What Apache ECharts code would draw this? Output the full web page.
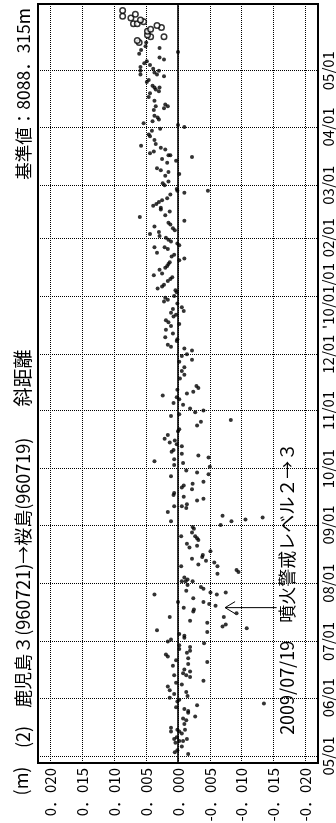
<!DOCTYPE html>
<html><head><meta charset="utf-8">
<script src="https://cdn.jsdelivr.net/npm/echarts@6/dist/echarts.min.js"></script>
<style>html,body{margin:0;padding:0;background:#fff}#c{width:336px;height:823px}</style>
</head><body><div id="c"></div>
<script>
const titleUnit = '(m)';
const titleMain = '(2)　鹿児島３(960721)→桜島(960719)';
const titleKind = '斜距離';
const titleBase = '基準値：8088．315m';
const eventNote = '2009/07/19　噴火警戒レベル２→３';
const eventDate = '2009-07-19';
const eventArrowFrom = -0.0155;
const eventArrowTo = -0.0074;

const valueTicks = [0.020, 0.015, 0.010, 0.005, 0, -0.005, -0.010, -0.015, -0.020];
const valueTickLabels = ['0．020','0．015','0．010','0．005','0．000','-0．005','-0．010','-0．015','-0．020'];
const monthTicks = ['2009-05-01','2009-06-01','2009-07-01','2009-08-01','2009-09-01','2009-10-01','2009-11-01','2009-12-01','2010-01-01','2010-02-01','2010-03-01','2010-04-01','2010-05-01'];
const monthTickLabels = ['05/01','06/01','07/01','08/01','09/01','10/01','11/01','12/01',"'10/01/01",'02/01','03/01','04/01','05/01'];

const dots = [
['2009-05-02',-0.0016],['2009-05-03',0.0005],['2009-05-04',0.0001],['2009-05-06',-0.0006],['2009-05-08',0.0004],['2009-05-09',-0.0002],['2009-05-09',-0.0008],['2009-05-10',0.0006],['2009-05-10',-0.0014],['2009-05-11',0.0002],['2009-05-13',-0.0006],['2009-05-14',0.0011],['2009-05-14',-0.0002],['2009-05-15',0.0001],['2009-05-15',-0.0011],['2009-05-16',0.0011],['2009-05-18',-0.0010],['2009-05-20',-0.0013],['2009-05-21',-0.0008],['2009-05-22',-0.0027],['2009-05-24',-0.0016],['2009-05-25',-0.0016],['2009-05-26',-0.0010],['2009-05-27',0.0003],['2009-05-28',-0.0030],['2009-05-29',-0.0135],['2009-05-30',0.0001],['2009-05-31',-0.0002],
['2009-06-01',0.0013],['2009-06-02',-0.0015],['2009-06-03',0.0006],['2009-06-04',-0.0013],['2009-06-05',0.0013],['2009-06-07',0.0016],['2009-06-08',-0.0006],['2009-06-09',0.0003],['2009-06-10',-0.0040],['2009-06-12',-0.0019],['2009-06-13',0.0006],['2009-06-13',-0.0013],['2009-06-14',-0.0008],['2009-06-15',-0.0019],['2009-06-16',-0.0010],['2009-06-18',0.0008],['2009-06-19',-0.0016],['2009-06-20',-0.0046],['2009-06-21',0.0003],['2009-06-22',-0.0016],['2009-06-23',0.0016],['2009-06-24',0.0019],['2009-06-25',-0.0014],['2009-06-26',-0.0019],['2009-06-27',-0.0002],['2009-06-28',-0.0019],['2009-06-29',-0.0002],['2009-06-30',-0.0041],
['2009-07-01',0.0016],['2009-07-02',0.0011],['2009-07-03',-0.0010],['2009-07-04',-0.0010],['2009-07-05',-0.0002],['2009-07-06',-0.0046],['2009-07-07',0.0033],['2009-07-08',-0.0108],['2009-07-09',-0.0070],['2009-07-10',-0.0075],['2009-07-11',-0.0046],['2009-07-12',-0.0019],['2009-07-14',0.0013],['2009-07-14',-0.0072],['2009-07-16',-0.0092],['2009-07-17',-0.0024],['2009-07-18',-0.0025],['2009-07-19',-0.0009],['2009-07-20',-0.0059],['2009-07-21',-0.0049],['2009-07-22',0.0000],['2009-07-22',-0.0040],['2009-07-24',-0.0024],['2009-07-26',0.0037],['2009-07-26',-0.0061],['2009-07-27',-0.0051],['2009-07-27',-0.0075],['2009-07-28',-0.0013],['2009-07-29',-0.0040],['2009-07-30',-0.0036],['2009-07-31',-0.0015],
['2009-08-02',-0.0006],['2009-08-02',-0.0012],['2009-08-02',-0.0023],['2009-08-03',-0.0015],['2009-08-04',-0.0010],['2009-08-06',-0.0062],['2009-08-07',-0.0095],['2009-08-08',-0.0092],['2009-08-10',-0.0005],['2009-08-10',-0.0062],['2009-08-11',-0.0032],['2009-08-12',-0.0057],['2009-08-13',-0.0044],['2009-08-14',-0.0022],['2009-08-15',-0.0038],['2009-08-16',-0.0039],['2009-08-18',-0.0051],['2009-08-20',-0.0018],['2009-08-21',-0.0030],['2009-08-22',-0.0014],['2009-08-24',-0.0032],['2009-08-25',-0.0030],['2009-08-26',-0.0027],['2009-08-26',-0.0005],['2009-08-28',-0.0022],['2009-08-30',-0.0025],['2009-08-31',-0.0023],
['2009-09-01',-0.0067],['2009-09-03',0.0011],['2009-09-03',-0.0084],['2009-09-04',-0.0106],['2009-09-05',-0.0133],['2009-09-06',-0.0070],['2009-09-08',0.0016],['2009-09-10',-0.0013],['2009-09-11',-0.0006],['2009-09-11',0.0006],['2009-09-12',-0.0014],['2009-09-14',-0.0030],['2009-09-15',-0.0040],['2009-09-16',-0.0009],['2009-09-17',0.0007],['2009-09-18',0.0006],['2009-09-20',-0.0022],['2009-09-21',-0.0006],['2009-09-22',-0.0009],['2009-09-23',-0.0023],['2009-09-24',-0.0040],['2009-09-27',0.0011],['2009-09-28',-0.0048],['2009-09-29',-0.0030],['2009-09-30',-0.0013],
['2009-10-02',-0.0050],['2009-10-03',0.0006],['2009-10-04',-0.0008],['2009-10-05',0.0037],['2009-10-06',0.0006],['2009-10-07',-0.0048],['2009-10-08',-0.0032],['2009-10-09',-0.0006],['2009-10-10',0.0010],['2009-10-11',0.0007],['2009-10-13',-0.0006],['2009-10-14',0.0002],['2009-10-15',0.0013],['2009-10-16',0.0005],['2009-10-17',0.0021],['2009-10-19',0.0016],['2009-10-21',0.0000],['2009-10-22',-0.0002],['2009-10-24',-0.0030],['2009-10-26',-0.0036],['2009-10-27',-0.0083],['2009-10-29',0.0011],['2009-10-30',-0.0002],['2009-10-31',-0.0027],
['2009-11-01',-0.0040],['2009-11-02',-0.0019],['2009-11-04',-0.0008],['2009-11-05',0.0007],['2009-11-07',-0.0002],['2009-11-08',0.0002],['2009-11-09',0.0024],['2009-11-10',-0.0014],['2009-11-11',-0.0024],['2009-11-12',0.0001],['2009-11-13',-0.0032],['2009-11-14',-0.0029],['2009-11-18',-0.0003],['2009-11-20',-0.0010],['2009-11-22',-0.0006],['2009-11-24',-0.0010],['2009-11-27',-0.0002],['2009-11-28',-0.0022],['2009-11-30',-0.0006],
['2009-12-01',-0.0014],['2009-12-03',-0.0022],['2009-12-04',-0.0010],['2009-12-05',0.0011],['2009-12-06',0.0016],['2009-12-08',0.0002],['2009-12-09',0.0001],['2009-12-10',0.0020],['2009-12-12',0.0008],['2009-12-14',0.0019],['2009-12-16',0.0011],['2009-12-17',-0.0002],['2009-12-18',0.0015],['2009-12-19',0.0019],['2009-12-21',0.0007],['2009-12-22',0.0003],['2009-12-23',0.0011],['2009-12-24',-0.0009],['2009-12-25',0.0008],['2009-12-26',-0.0006],['2009-12-28',0.0001],['2009-12-29',0.0022],['2009-12-30',0.0016],['2009-12-31',0.0020],
['2010-01-01',0.0006],['2010-01-03',0.0002],['2010-01-04',0.0004],['2010-01-05',0.0032],['2010-01-06',0.0025],['2010-01-07',0.0022],['2010-01-09',0.0016],['2010-01-10',0.0012],['2010-01-11',0.0009],['2010-01-12',0.0038],['2010-01-13',0.0025],['2010-01-15',0.0029],['2010-01-16',0.0020],['2010-01-17',0.0017],['2010-01-18',0.0015],['2010-01-19',0.0013],['2010-01-20',-0.0002],['2010-01-21',-0.0010],['2010-01-22',0.0010],['2010-01-23',0.0006],['2010-01-24',0.0033],['2010-01-26',0.0016],['2010-01-27',0.0037],['2010-01-27',0.0021],['2010-01-28',-0.0002],['2010-01-29',0.0001],['2010-01-30',0.0011],['2010-01-31',0.0015],
['2010-02-01',0.0019],['2010-02-02',0.0029],['2010-02-03',0.0044],['2010-02-04',0.0030],['2010-02-05',0.0005],['2010-02-06',0.0008],['2010-02-07',0.0037],['2010-02-08',0.0012],['2010-02-09',0.0015],['2010-02-10',-0.0010],['2010-02-12',0.0060],['2010-02-13',0.0020],['2010-02-15',0.0013],['2010-02-16',0.0027],['2010-02-17',0.0027],['2010-02-18',0.0039],['2010-02-19',0.0034],['2010-02-20',0.0030],['2010-02-21',0.0025],['2010-02-22',0.0017],['2010-02-24',0.0012],['2010-02-25',-0.0010],['2010-02-26',0.0001],['2010-02-26',-0.0047],['2010-02-27',0.0002],
['2010-03-01',0.0021],['2010-03-02',0.0024],['2010-03-03',0.0015],['2010-03-06',0.0020],['2010-03-07',-0.0002],['2010-03-08',0.0015],['2010-03-09',0.0027],['2010-03-10',0.0033],['2010-03-13',0.0017],['2010-03-14',0.0003],['2010-03-15',0.0025],['2010-03-16',-0.0022],['2010-03-17',0.0012],['2010-03-17',0.0015],['2010-03-18',0.0044],['2010-03-19',0.0038],['2010-03-20',0.0020],['2010-03-21',0.0027],['2010-03-22',0.0058],['2010-03-23',0.0035],['2010-03-25',0.0037],['2010-03-27',0.0044],['2010-03-28',0.0046],['2010-03-30',0.0041],['2010-03-31',0.0028],
['2010-04-01',-0.0010],['2010-04-02',0.0000],['2010-04-03',0.0054],['2010-04-04',0.0040],['2010-04-05',0.0030],['2010-04-06',0.0032],['2010-04-07',0.0037],['2010-04-10',0.0038],['2010-04-11',0.0022],['2010-04-12',0.0035],['2010-04-12',0.0016],['2010-04-13',0.0020],['2010-04-15',0.0037],['2010-04-17',0.0046],['2010-04-19',0.0044],['2010-04-20',0.0030],['2010-04-21',0.0035],['2010-04-22',0.0037],['2010-04-22',0.0029],['2010-04-23',0.0040],['2010-04-25',0.0049],['2010-04-26',0.0046],['2010-04-28',0.0022],['2010-04-29',0.0059],['2010-04-29',0.0033],['2010-04-30',0.0037],
['2010-05-01',0.0059],['2010-05-01',0.0030],['2010-05-02',0.0039],['2010-05-03',0.0059],['2010-05-04',0.0044],['2010-05-05',0.0053],['2010-05-06',0.0049],['2010-05-07',0.0022],['2010-05-08',0.0029],['2010-05-10',0.0061],['2010-05-11',0.0000],['2010-05-12',0.0058],['2010-05-13',0.0029],['2010-05-14',0.0051],['2010-05-16',0.0050]
];
const circles = [
['2010-05-16',0.0061],['2010-05-17',0.0064],['2010-05-19',0.0043],['2010-05-19',0.0022],['2010-05-20',0.0048],['2010-05-22',0.0048],['2010-05-23',0.0043],['2010-05-24',0.0026],['2010-05-25',0.0033],['2010-05-26',0.0070],['2010-05-26',0.0064],['2010-05-27',0.0054],['2010-05-28',0.0059],['2010-05-29',0.0074],['2010-05-30',0.0087],['2010-05-31',0.0067],['2010-06-02',0.0087]
];

function t(s) { const p = s.split('-').map(Number); return new Date(p[0], p[1] - 1, p[2]).getTime(); }
const FONT = '"Noto Sans CJK JP", "Noto Sans", sans-serif';
const monthTimes = monthTicks.map(t);

const chart = echarts.init(document.getElementById('c'), null, {renderer: 'canvas'});
chart.setOption({
  animation: false,
  grid: {left: 38, right: 18, top: 4, bottom: 60, show: true, borderColor: '#000', borderWidth: 2, outerBoundsMode: 'none'},
  xAxis: {
    type: 'value', min: -0.022, max: 0.022, inverse: true, position: 'bottom',
    axisLine: {show: false},
    axisTick: {show: false, customValues: valueTicks},
    axisLabel: {customValues: valueTicks, rotate: 90, margin: 5, color: '#000', fontSize: 15, fontFamily: FONT,
      formatter: v => { const i = valueTicks.findIndex(x => Math.abs(x - v) < 1e-9); return i >= 0 ? valueTickLabels[i] : ''; }},
    splitLine: {show: true, lineStyle: {type: 'dotted', color: '#000', width: 1}}
  },
  yAxis: {
    type: 'value', position: 'right', scale: true,
    min: new Date(2009, 3, 27, 6).getTime(), max: new Date(2010, 5, 5, 12).getTime(),
    axisLine: {show: false},
    axisTick: {show: false, customValues: monthTimes},
    axisLabel: {customValues: monthTimes, rotate: 90, margin: 3, color: '#000', fontSize: 15, fontFamily: FONT,
      formatter: v => { const i = monthTimes.findIndex(x => Math.abs(x - v) < 3600000); return i >= 0 ? monthTickLabels[i] : ''; }},
    splitLine: {show: true, lineStyle: {type: 'dotted', color: '#000', width: 1}}
  },
  series: [
    {type: 'scatter', data: dots.map(d => [d[1], t(d[0])]), symbol: 'circle', symbolSize: 4, itemStyle: {color: '#000'},
     markLine: {silent: true, symbol: 'none', label: {show: false}, lineStyle: {color: '#000', type: 'solid', width: 1.6}, data: [{xAxis: 0}]}},
    {type: 'scatter', data: circles.map(d => [d[1], t(d[0])]), symbol: 'circle', symbolSize: 5.5, itemStyle: {color: '#fff', borderColor: '#000', borderWidth: 1.5}}
  ]
});

const p1 = chart.convertToPixel({gridIndex: 0}, [eventArrowFrom, t(eventDate)]);
const p2 = chart.convertToPixel({gridIndex: 0}, [eventArrowTo, t(eventDate)]);
const noteAt = chart.convertToPixel({gridIndex: 0}, [-0.0171, t('2009-07-29')]);
const tx = 23;
function vtext(x, y, text, align, size) {
  return {type: 'text', x: x, y: y, rotation: Math.PI / 2,
    style: {text: text, font: size + 'px ' + FONT, fill: '#000', textAlign: align, align: align, textVerticalAlign: 'middle', verticalAlign: 'middle'}};
}
chart.setOption({
  graphic: [
    vtext(tx - 2, 781, titleUnit, 'center', 18),
    vtext(tx, 748, titleMain, 'left', 18),
    vtext(tx, 378, titleKind, 'center', 19),
    vtext(tx, 8, titleBase, 'right', 17.5),
    vtext(noteAt[0], noteAt[1], eventNote, 'center', 18),
    {type: 'line', shape: {x1: p1[0], y1: p1[1], x2: p2[0], y2: p2[1]}, style: {stroke: '#000', lineWidth: 1}},
    {type: 'polyline', shape: {points: [[p2[0] + 10, p2[1] - 6], [p2[0], p2[1]], [p2[0] + 10, p2[1] + 6]]}, style: {stroke: '#000', fill: null, lineWidth: 1}}
  ]
});
</script></body></html>
